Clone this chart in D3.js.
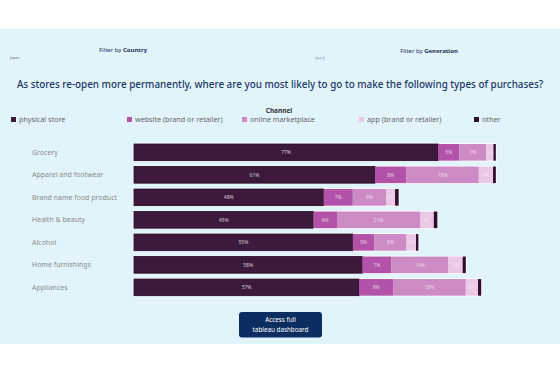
<!DOCTYPE html>
<html><head><meta charset="utf-8">
<script src="https://cdn.jsdelivr.net/npm/d3@7"></script>
<style>
html,body{margin:0;padding:0;background:#fff;}
svg{display:block;font-family:"Noto Sans",sans-serif;}
</style></head>
<body><svg id="c" width="560" height="373"></svg>
<script>
const categories = ["Grocery","Apparel and footwear","Brand name food product","Health & beauty","Alcohol","Home furnishings","Appliances"];
const channels = ["physical store","website (brand or retailer)","online marketplace","app (brand or retailer)","other"];
const physicalStore = [77, 61, 48, 45.4, 55.4, 57.8, 57];
const website       = [5.4, 8.0, 7.4, 6.0, 5.4, 7.4, 8.6];
const onlineMarket  = [6.8, 18.3, 8.4, 21.0, 8.2, 14.4, 18.4];
const app           = [1.8, 3.6, 2.3, 3.5, 2.4, 3.6, 3.1];
const other         = [0.6, 0.7, 0.9, 0.9, 0.6, 0.8, 0.8];
const colors = ["#3d1a3b","#b352a9","#cd8bc6","#ecc8e7","#2e0d2c"];
const titleText = "As stores re-open more permanently, where are you most likely to go to make the following types of purchases?";

const svg = d3.select("#c");
svg.append("rect").attr("x",0).attr("y",29).attr("width",560).attr("height",315).attr("fill","#e1f4fc");

// filters
const f1 = svg.append("text").attr("x",123).attr("y",52).attr("text-anchor","middle").attr("font-size",6).attr("fill","#1c2f55");
f1.append("tspan").text("Filter by ");
f1.append("tspan").attr("font-weight","bold").text("Country");
svg.append("text").attr("x",10).attr("y",59).attr("font-size",3.6).attr("fill","#666").text("Japan");
const f2 = svg.append("text").attr("x",429).attr("y",53).attr("text-anchor","middle").attr("font-size",6).attr("fill","#1c2f55");
f2.append("tspan").text("Filter by ");
f2.append("tspan").attr("font-weight","bold").text("Generation");
svg.append("text").attr("x",315).attr("y",60).attr("font-size",3.6).attr("fill","#666").style("font-family","'Noto Sans CJK JP'").text("すべて");

const title = svg.append("text").attr("x",280).attr("y",88).attr("text-anchor","middle").attr("font-size",12)
  .attr("fill","#1d3868").attr("font-weight",500).text(titleText);
const tw = title.node().getComputedTextLength();
title.attr("font-size", 12 * 527 / tw);

// legend
svg.append("text").attr("x",279).attr("y",113).attr("text-anchor","middle").attr("font-size",6.5).attr("font-weight","bold").attr("fill","#333").text("Channel");
const legX = [11,127,242,359,474];
const lg = svg.append("g").selectAll("g").data(channels).join("g").attr("transform",(d,i)=>`translate(${legX[i]},117)`);
lg.append("rect").attr("width",5).attr("height",5).attr("fill",(d,i)=>colors[i]);
lg.append("text").attr("x",8).attr("y",5.2).attr("font-size",7.2).attr("fill","#666").text(d=>d);

// chart
const series = [physicalStore, website, onlineMarket, app, other];
const rows = categories.map((c,i)=>{const o={cat:c}; channels.forEach((ch,j)=>o[ch]=series[j][i]); return o;});
const stacked = d3.stack().keys(channels)(rows);
const x = d3.scaleLinear().domain([0,100]).range([134,529]);
const y = d3.scaleBand().domain(categories).range([144,295.7]).paddingInner(0.26).paddingOuter(0);

const yAxis = d3.axisLeft(y).tickSize(0);
const ga = svg.append("g").attr("transform","translate(32,0)").call(yAxis);
ga.select(".domain").remove();
ga.selectAll("text").attr("text-anchor","start").attr("x",0).attr("font-size",7).attr("fill","#8b8b8b").style("font-family","'Noto Sans',sans-serif");

// white outline behind bars
svg.append("g").selectAll("rect").data(rows).join("rect")
  .attr("x",x(0)-0.8).attr("y",d=>y(d.cat)-0.8)
  .attr("width",d=>x(d3.sum(channels,ch=>d[ch]))-x(0)+1.6).attr("height",y.bandwidth()+1.6).attr("fill","#ffffff");

const layers = svg.append("g").selectAll("g").data(stacked).join("g").attr("fill",(d,i)=>colors[i]);
layers.selectAll("rect").data(d=>d).join("rect")
  .attr("x",d=>x(d[0])).attr("y",d=>y(d.data.cat))
  .attr("width",d=>x(d[1])-x(d[0])).attr("height",y.bandwidth())
  .attr("stroke",function(){const k=d3.select(this.parentNode).datum().key; return k==="physical store"?"#24091f":"none";})
  .attr("stroke-width",0.8);
layers.filter(d=>d.key!=="other").selectAll("text").data(d=>d).join("text")
  .attr("x",d=>(x(d[0])+x(d[1]))/2).attr("y",d=>y(d.data.cat)+y.bandwidth()/2+2)
  .attr("text-anchor","middle").attr("font-size",5).attr("fill","#f3e6f1").attr("fill-opacity",0.85)
  .text(d=>Math.round(d[1]-d[0])+"%");

// button
svg.append("rect").attr("x",239).attr("y",312).attr("width",83).attr("height",25.5).attr("rx",3).attr("fill","#0c2d5f");
svg.append("text").attr("x",280.5).attr("y",322).attr("text-anchor","middle").attr("font-size",6.3).attr("fill","#fff").text("Access full");
svg.append("text").attr("x",280.5).attr("y",331.5).attr("text-anchor","middle").attr("font-size",6.3).attr("fill","#fff").text("tableau dashboard");
</script></body></html>
